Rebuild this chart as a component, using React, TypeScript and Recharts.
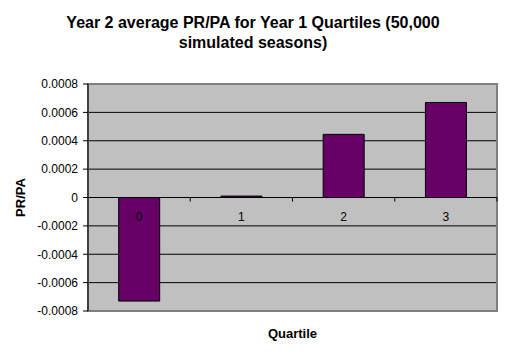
import React from 'react';
import { BarChart, Bar, XAxis, YAxis, CartesianGrid, ReferenceLine, ReferenceArea } from 'recharts';

const quartiles = ['0', '1', '2', '3'];
const prPerPa = [-0.00073, 0.00001, 0.000445, 0.00067];
const yTicks = [-0.0008, -0.0006, -0.0004, -0.0002, 0, 0.0002, 0.0004, 0.0006, 0.0008];

const chartData = quartiles.map((q, i) => ({ quartile: q, value: prPerPa[i] }));

const W = 506;
const H = 357;
const M = { top: 84, right: 9, bottom: 0, left: 0 };
const X_AXIS_H = 46;
const Y_MIN = -0.0008;
const Y_MAX = 0.0008;
const FONT = '"Liberation Sans", Arial, sans-serif';

// category labels + tick marks sit on the zero line, Excel style
const ZeroTick = (props: any) => {
  const { x, payload } = props;
  const plotH = H - M.top - M.bottom - X_AXIS_H;
  const zeroY = M.top + (plotH * Y_MAX) / (Y_MAX - Y_MIN);
  const half = payload.offset || 0;
  return (
    <g>
      <line x1={x + half} x2={x + half} y1={zeroY} y2={zeroY + 4} stroke="#000" />
      <text x={x} y={zeroY + 23} textAnchor="middle" fontSize={12} fontFamily={FONT} fill="#000">
        {payload.value}
      </text>
    </g>
  );
};

const fmt = (v: number) => (v === 0 ? '0' : v.toFixed(4));

const YLabel = (props: any) => {
  const vb = props.viewBox;
  const cy = vb.y + vb.height / 2;
  return (
    <text
      x={20}
      y={cy}
      transform={`rotate(-90 20 ${cy})`}
      textAnchor="middle"
      dominantBaseline="central"
      fontSize={13}
      fontWeight="bold"
      fontFamily={FONT}
      fill="#000"
    >
      PR/PA
    </text>
  );
};

export default function App() {
  return (
    <div style={{ position: 'absolute', left: 0, top: 0, width: W, height: H, background: '#fff' }}>
      <div
        style={{
          position: 'absolute',
          left: 0,
          top: 13,
          width: W,
          textAlign: 'center',
          fontFamily: FONT,
          fontWeight: 'bold',
          fontSize: 16,
          lineHeight: '20px',
        }}
      >
        Year 2 average PR/PA for Year 1 Quartiles (50,000
        <br />
        simulated seasons)
      </div>
      <BarChart width={W} height={H} data={chartData} margin={M} barCategoryGap="30%">
        <CartesianGrid vertical={false} stroke="#000" fill="#C0C0C0" horizontalValues={yTicks} />
        <ReferenceArea y1={Y_MIN} y2={Y_MAX} fill="none" stroke="#808080" strokeWidth={2} fillOpacity={0} />
        <XAxis
          dataKey="quartile"
          height={X_AXIS_H}
          axisLine={false}
          tickLine={false}
          tickSize={0}
          tick={<ZeroTick />}
          label={{
            value: 'Quartile',
            position: 'insideBottom',
            offset: 19,
            style: { fontFamily: FONT, fontWeight: 'bold', fontSize: 13, fill: '#000' },
          }}
        />
        <YAxis
          width={88}
          domain={[Y_MIN, Y_MAX]}
          ticks={yTicks}
          tickFormatter={fmt}
          interval={0}
          axisLine={{ stroke: '#000' }}
          tickLine={{ stroke: '#000' }}
          tickSize={5}
          tickMargin={5}
          tick={{ fontFamily: FONT, fontSize: 12, fill: '#000' }}
          label={<YLabel />}
        />
        <ReferenceLine y={0} stroke="#000" />
        <Bar dataKey="value" fill="#660066" stroke="#000" strokeWidth={1} isAnimationActive={false} />
      </BarChart>
    </div>
  );
}
